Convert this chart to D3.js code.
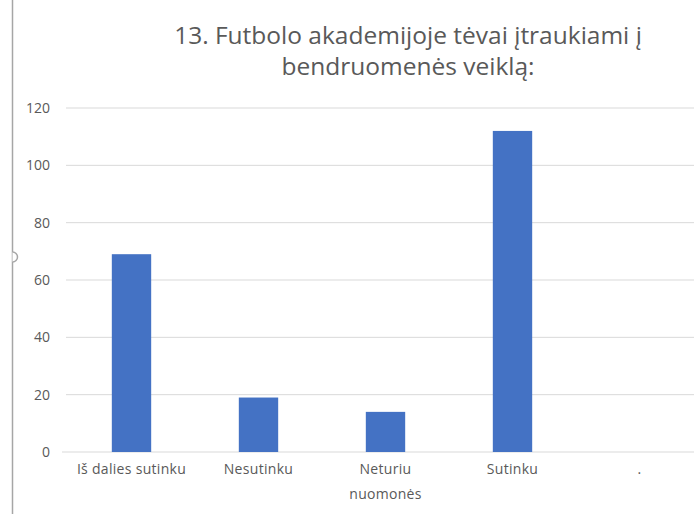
<!DOCTYPE html>
<html>
<head>
<meta charset="utf-8">
<script src="https://cdn.jsdelivr.net/npm/d3@7"></script>
<style>
  body { margin: 0; background: #fff; }
  svg { display: block; font-family: "Open Sans", "Noto Sans", sans-serif; }
</style>
</head>
<body>
<div id="chart"></div>
<script>
// data
const categories = ["Iš dalies sutinku", "Nesutinku", "Neturiu nuomonės", "Sutinku", "."];
const values = [69, 19, 14, 112, null];
const yTicks = [0, 20, 40, 60, 80, 100, 120];
const titleLines = ["13. Futbolo akademijoje tėvai įtraukiami į", "bendruomenės veiklą:"];

const width = 694;
const height = 514;
const margin = { top: 108, right: -9, bottom: 62, left: 68 };

const svg = d3.select("#chart")
  .append("svg")
  .attr("width", width)
  .attr("height", height);

const x = d3.scaleBand()
  .domain(categories)
  .range([margin.left, width - margin.right])
  .paddingInner(0.69)
  .paddingOuter(0.345);

const y = d3.scaleLinear()
  .domain([0, 120])
  .range([height - margin.bottom, margin.top]);

// frame line at left
svg.append("line")
  .attr("x1", 12.5).attr("x2", 12.5)
  .attr("y1", 0).attr("y2", height)
  .attr("stroke", "#a6a6a6")
  .attr("stroke-width", 1.5);
svg.append("path")
  .attr("d", "M12.5,252 A5,5 0 0 1 12.5,262")
  .attr("fill", "#fff")
  .attr("stroke", "#a6a6a6")
  .attr("stroke-width", 1.5);

// grid
svg.append("g")
  .selectAll("line")
  .data(yTicks)
  .join("line")
  .attr("x1", d => d === 0 ? 62 : 66)
  .attr("x2", width)
  .attr("y1", d => y(d))
  .attr("y2", d => y(d))
  .attr("stroke", "#d9d9d9")
  .attr("stroke-width", 1);

// y labels
svg.append("g")
  .selectAll("text")
  .data(yTicks)
  .join("text")
  .attr("x", 50)
  .attr("y", d => y(d))
  .attr("dy", "0.35em")
  .attr("text-anchor", "end")
  .attr("fill", "#595959")
  .attr("font-size", 14)
  .text(d => d);

// bars
svg.append("g")
  .selectAll("rect")
  .data(categories.map((c, i) => ({ c, v: values[i] })).filter(d => d.v != null))
  .join("rect")
  .attr("x", d => x(d.c))
  .attr("y", d => y(d.v))
  .attr("width", x.bandwidth())
  .attr("height", d => y(0) - y(d.v))
  .attr("fill", "#4472c4");

// x labels
const xl = svg.append("g")
  .selectAll("text")
  .data(categories)
  .join("text")
  .attr("text-anchor", "middle")
  .attr("fill", "#595959")
  .attr("font-size", 14)
  .attr("letter-spacing", 0.3)
  .attr("x", d => x(d) + x.bandwidth() / 2)
  .attr("y", 474);

xl.each(function (d) {
  const t = d3.select(this);
  const lines = d === "Neturiu nuomonės" ? ["Neturiu", "nuomonės"] : [d];
  lines.forEach((l, i) => {
    t.append("tspan")
      .attr("x", x(d) + x.bandwidth() / 2)
      .attr("dy", i === 0 ? 0 : 25)
      .text(l);
  });
});

// title
svg.append("g")
  .selectAll("text")
  .data(titleLines)
  .join("text")
  .attr("x", 408)
  .attr("y", (d, i) => 44 + i * 31)
  .attr("text-anchor", "middle")
  .attr("fill", "#595959")
  .attr("font-size", 24.5)
  .text(d => d);
</script>
</body>
</html>
